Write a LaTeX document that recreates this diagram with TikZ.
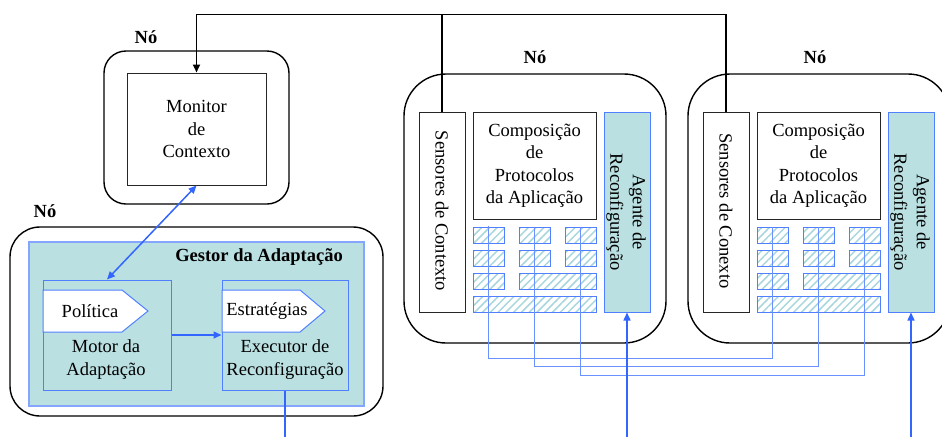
\documentclass[tikz,border=0pt]{standalone}
\usepackage{fontspec}
\setmainfont{Liberation Serif}
\usetikzlibrary{arrows.meta,patterns.meta}
\definecolor{tealfill}{RGB}{186,224,226}
\definecolor{bblue}{RGB}{80,128,255}
\definecolor{ablue}{RGB}{51,102,255}
\definecolor{lblue}{RGB}{105,145,255}
\definecolor{hatchc}{RGB}{168,214,220}
\begin{document}
\begin{tikzpicture}[x=1pt,y=-1pt,
  every node/.style={font=\fontsize{18.5}{22.5}\selectfont, inner sep=0pt},
  frame/.style={draw=black, line width=1.4pt},
  lbl/.style={font=\bfseries\fontsize{18.5}{22.5}\selectfont, anchor=base},
  whitebox/.style={draw=black!85, line width=1pt, fill=white, align=center},
  tealbox/.style={draw=bblue, line width=1pt, fill=tealfill, align=center},
  hatchbox/.style={draw=bblue, line width=1pt, pattern={Lines[angle=45,distance=5.5pt,line width=1.5pt]}, pattern color=hatchc},
  pent/.style={draw=bblue, line width=1pt, fill=white},
  bus/.style={draw=black, line width=1.9pt},
  barrow/.style={draw=ablue, line width=1.5pt},
  wire/.style={draw=lblue, line width=1pt},
  tip/.style={-{Triangle[length=8pt,width=7pt]}}
]
\useasboundingbox (0,0) rectangle (942,437);

% ---------- Monitor node ----------
\node[frame, rounded corners=22pt, minimum width=185pt, minimum height=153pt] (nMon) at (196.5,127.5) {};
\node[lbl] (lMon) at (146,43) {Nó};
\node[whitebox, minimum width=139pt, minimum height=112pt] (mon) at (196.5,129) {Monitor\\de\\Contexto};

% ---------- Gestor node ----------
\node[frame, rounded corners=30pt, minimum width=373pt, minimum height=189pt] (nGes) at (196.5,321.5) {};
\node[lbl] (lGes) at (45,217) {Nó};
\node[tealbox, draw=bblue!70, line width=1.3pt, minimum width=335pt, minimum height=164pt] (ges) at (196.5,324) {};
\node[font=\bfseries\fontsize{18.5}{22.5}\selectfont, anchor=base east] (gtitle) at (343,261) {Gestor da Adaptação};

\node[tealbox, minimum width=128pt, minimum height=110pt] (motor) at (107,335) {};
\draw[pent] (43,290) -- (122,290) -- (148,311) -- (122,332) -- (43,332) -- cycle;
\node (pol) at (90,311) {Política};
\node[align=center] (motortxt) at (106,359.5) {Motor da\\Adaptação};

\node[tealbox, minimum width=126pt, minimum height=110pt] (exec) at (285,335) {};
\draw[pent] (222,290) -- (300,290) -- (325,311) -- (300,332) -- (222,332) -- cycle;
\node (estr) at (267,311) {Estratégias};
\node[align=center] (exectxt) at (285,359.5) {Executor de\\Reconfiguração};

% ---------- Application nodes ----------
\foreach \s/\dx/\sens/\nx in {L/0/Sensores de Contexto/535, R/284/Sensores de Conexto/815}{
  \node[frame, rounded corners=42pt, minimum width=262pt, minimum height=269pt] (\s node) at ({\dx+535},208.5) {};
  \node[lbl] (\s lbl) at (\nx,63) {Nó};
  \node[whitebox, minimum width=46pt, minimum height=200pt] (\s sen) at ({\dx+442},212) {};
  \node[rotate=-90] (\s sentxt) at ({\dx+442},211) {\sens};
  \node[whitebox, minimum width=123pt, minimum height=107pt] (\s comp) at ({\dx+534.5},165.5) {Composição\\de\\Protocolos\\da Aplicação};
  \node[tealbox, minimum width=46pt, minimum height=200pt] (\s ag) at ({\dx+627},212) {};
  \node[rotate=-90, align=center] (\s agtxt) at ({\dx+626},212) {Agente de\\Reconfiguração};
  % hatched grid
  \foreach \r/\y in {1/235,2/258}{
    \node[hatchbox, minimum width=31pt, minimum height=16pt] (\s\r1) at ({\dx+488.5},\y) {};
    \node[hatchbox, minimum width=31pt, minimum height=16pt] (\s\r2) at ({\dx+534.5},\y) {};
    \node[hatchbox, minimum width=31pt, minimum height=16pt] (\s\r3) at ({\dx+580.5},\y) {};
  }
  \node[hatchbox, minimum width=31pt, minimum height=16pt] (\s31) at ({\dx+488.5},281) {};
  \node[hatchbox, minimum width=77pt, minimum height=16pt] (\s32) at ({\dx+557.5},281) {};
  \node[hatchbox, minimum width=123pt, minimum height=16pt] (\s41) at ({\dx+534.5},304) {};
}

% ---------- wires between application nodes ----------
\draw[wire] (L11.north) -- ++(0,132) -| (R11.north);
\draw[wire] (L12.north) -- ++(0,140) -| (R12.north);
\draw[wire] (L13.north) -- ++(0,149) -| (R13.north);

% ---------- context bus ----------
\draw[bus, tip] (Rsen.north) -- ++(0,-97) -| (mon.north);
\draw[bus] (Lsen.north) -- ++(0,-97);

% ---------- blue arrows ----------
\draw[barrow, {Triangle[length=8pt,width=7pt]}-{Triangle[length=8pt,width=7pt]}] (motor.north) -- (mon.south);
\draw[barrow, tip] (motor.east) -- (exec.west);
\coordinate (bE) at (285,437);
\coordinate (bL) at (627,437);
\coordinate (bR) at (911,437);
\draw[barrow] (exec.south) -- (bE);
\draw[barrow, tip] (bL) -- (Lag.south);
\draw[barrow, tip] (bR) -- (Rag.south);
\end{tikzpicture}
\end{document}
